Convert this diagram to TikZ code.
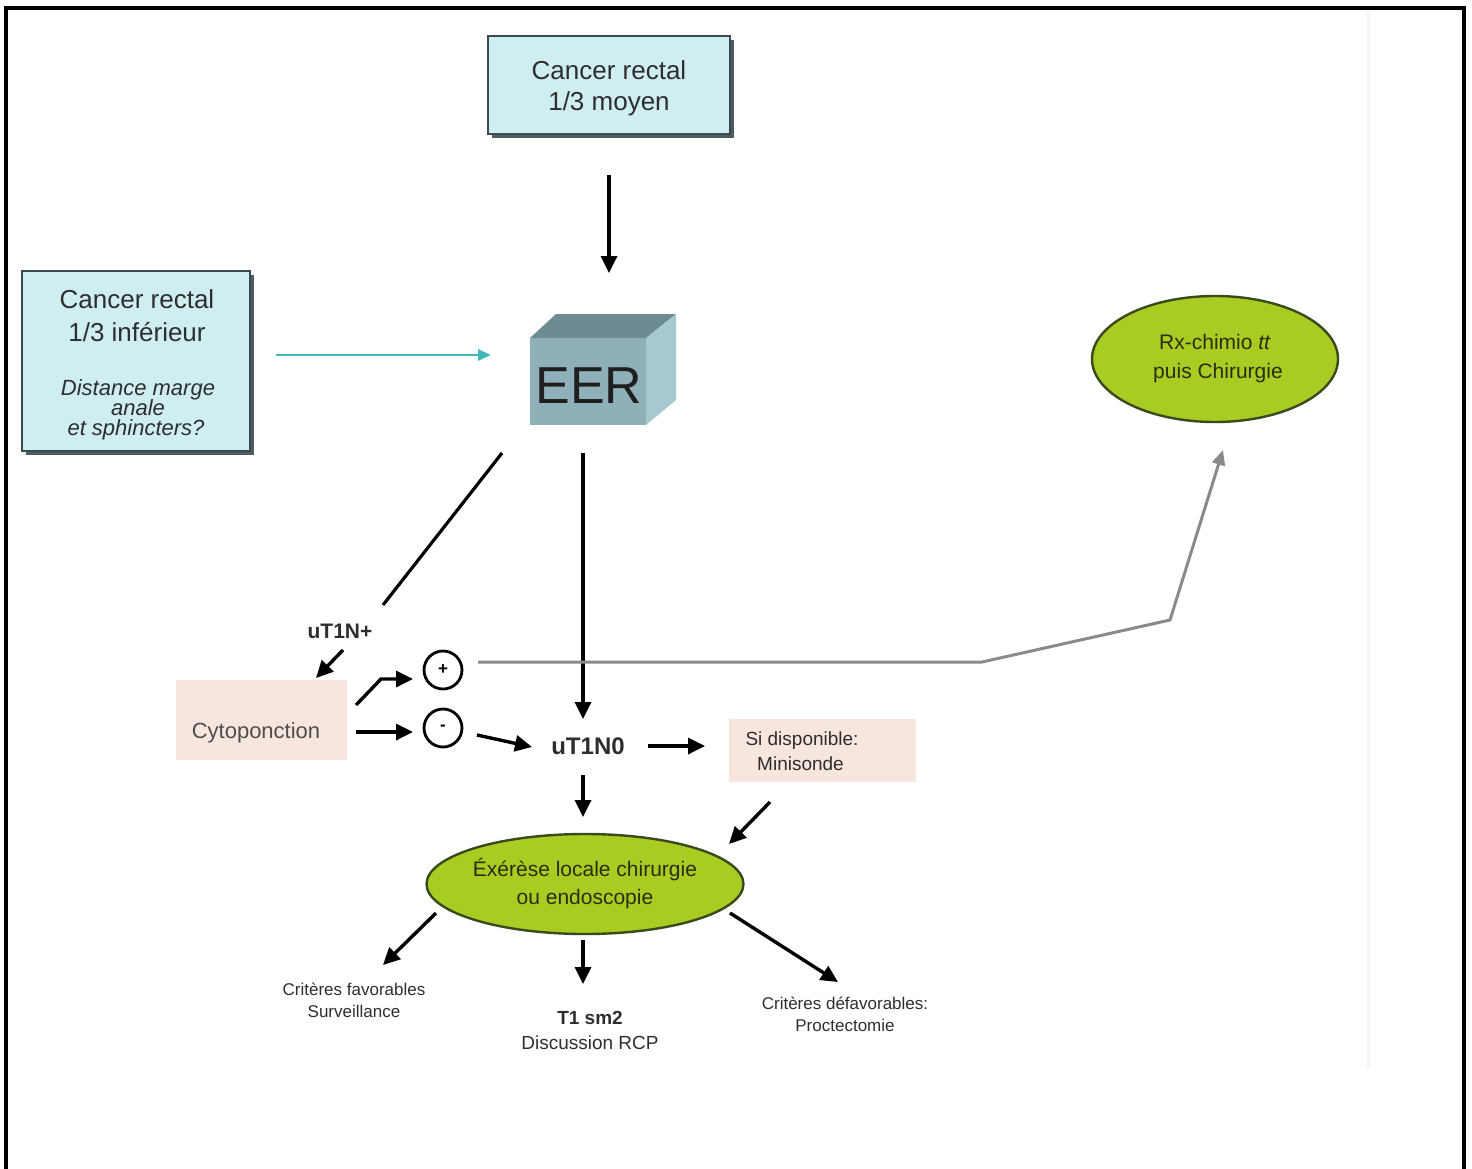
\documentclass[tikz,border=0pt]{standalone}
\usepackage{fontspec}
\setmainfont{Liberation Sans}
\usetikzlibrary{arrows.meta,shapes.geometric,shadows}
\definecolor{boxblue}{HTML}{CFEEF2}
\definecolor{boxline}{HTML}{3A4A50}
\definecolor{cubefront}{HTML}{8FB0B8}
\definecolor{cubetop}{HTML}{6E8A92}
\definecolor{cubeside}{HTML}{A8C8D0}
\definecolor{leaf}{HTML}{A8CC22}
\definecolor{leafline}{HTML}{3A4A1A}
\definecolor{leaftext}{HTML}{243010}
\definecolor{pinkbox}{HTML}{F8E6DE}
\definecolor{tealarr}{HTML}{40B8B8}
\definecolor{grayarr}{HTML}{8A8A8A}
\definecolor{txt}{HTML}{2E2E2E}
\tikzset{
  fs/.style={font=\fontsize{#1}{#1}\selectfont},
  bluebox/.style={draw=boxline, line width=2.2pt, fill=boxblue, inner sep=0pt,
    drop shadow={shadow xshift=4pt, shadow yshift=-4pt, fill=boxline, opacity=0.9}},
  pink/.style={fill=pinkbox, draw=none, inner sep=0pt},
  leafell/.style={ellipse, draw=leafline, line width=2.4pt, fill=leaf, inner sep=0pt, text=leaftext, align=center},
  arr/.style={line width=3.4pt, -{Triangle[length=17pt,width=16pt]}},
  plainline/.style={line width=3.2pt},
  sign/.style={circle, draw, line width=2.8pt, minimum size=38pt, inner sep=0pt, font=\fontsize{17}{17}\selectfont\bfseries},
}
\begin{document}
\begin{tikzpicture}[x=1pt,y=-1pt]
\useasboundingbox (0,0) rectangle (1472,1168);
% frame
\draw[line width=3.2pt] (6,1170) -- (6,8) -- (1464,8) -- (1464,1170);
\draw[gray!8, line width=3pt] (1368,11) -- (1368,1068);

% top box
\node[bluebox, minimum width=242pt, minimum height=98pt] (moyen) at (609,85) {};
\node[fs=26, text=txt, anchor=base] (moyenA) at (609,79) {Cancer rectal};
\node[fs=26, text=txt, anchor=base] (moyenB) at (609,110) {1/3 moyen};

% left box
\node[bluebox, minimum width=228pt, minimum height=180pt] (inf) at (136,361) {};
\node[fs=26, text=txt, anchor=base] (infA) at (137,308) {Cancer rectal};
\node[fs=26, text=txt, anchor=base] (infB) at (137,341) {1/3 inférieur};
\node[text=txt, anchor=base, font=\fontsize{22}{22}\selectfont\itshape] (infC) at (138,395) {Distance marge};
\node[text=txt, anchor=base, font=\fontsize{22}{22}\selectfont\itshape] (infD) at (138,415) {anale};
\node[text=txt, anchor=base, font=\fontsize{22}{22}\selectfont\itshape] (infE) at (136,435) {et sphincters?};

% EER cube
\fill[cubetop] (530,338) -- (556,314) -- (676,314) -- (646,338) -- cycle;
\fill[cubeside] (646,338) -- (676,314) -- (676,400) -- (646,425) -- cycle;
\node[fill=cubefront, minimum width=116pt, minimum height=87pt, inner sep=0pt] (eer) at (588,381.5) {};
\node[font=\fontsize{52}{52}\selectfont, text=black!88, anchor=base] (eerT) at (589,403) {EER};

% Rx ellipse
\node[leafell, minimum width=246pt, minimum height=126pt, font=\fontsize{21}{29}\selectfont] (rx) at (1215,359) {Rx-chimio \textit{tt}\\\hspace*{6pt}puis Chirurgie};

% labels
\node[font=\fontsize{21}{21}\selectfont\bfseries, text=txt] (nplus) at (340,631) {uT1N+};
\node[font=\fontsize{24}{24}\selectfont\bfseries, text=txt] (nzero) at (588,746) {uT1N0};

% Cytoponction
\node[pink, minimum width=171pt, minimum height=80pt] (cyto) at (261.5,720) {};
\node[font=\fontsize{22}{22}\selectfont, text=txt!85] (cytoT) at (256,733) {Cytoponction};

% signs
\node[sign] (plus) at (443,670) {+};
\node[sign] (minus) at (443,728) {-};

% minisonde
\node[pink, minimum width=187pt, minimum height=63pt] (mini) at (822.5,750.5) {};
\node[font=\fontsize{19}{25}\selectfont, text=txt, align=center] (miniT) at (802,751) {Si disponible:\\\hspace*{-3pt}Minisonde};

% exerese
\node[leafell, minimum width=296pt, minimum height=100pt, font=\fontsize{21}{28}\selectfont] (exe) at (585,884) {Éxérèse locale chirurgie\\ou endoscopie};

% bottom labels
\node[font=\fontsize{17}{22}\selectfont, text=txt, align=center] (fav) at (354,1000) {Critères favorables\\Surveillance};
\node[font=\fontsize{19}{25}\selectfont, text=txt, align=center] (t1) at (590,1030) {\textbf{T1 sm2}\\Discussion RCP};
\node[font=\fontsize{17}{22}\selectfont, text=txt, align=center] (defav) at (845,1014) {Critères défavorables:\\Proctectomie};

% coordinates for free ends
\coordinate (c1a) at (609,175); \coordinate (c1b) at (609,273);
\coordinate (c2a) at (276,355); \coordinate (c2b) at (491,355);
\coordinate (c3a) at (502,453); \coordinate (c3b) at (383,605);
\coordinate (c4a) at (343,650); \coordinate (c4b) at (316,678);
\coordinate (c5a) at (583,453); \coordinate (c5b) at (583,719);
\coordinate (c6a) at (356,705); \coordinate (c6m) at (381,679); \coordinate (c6b) at (413,679);
\coordinate (c7a) at (356,732); \coordinate (c7b) at (413,732);
\coordinate (c8a) at (477,735); \coordinate (c8b) at (532,747);
\coordinate (c9a) at (648,746); \coordinate (c9b) at (705,746);
\coordinate (c10a) at (583,775); \coordinate (c10b) at (583,817);
\coordinate (c11a) at (770,802); \coordinate (c11b) at (729,844);
\coordinate (c12a) at (436,913); \coordinate (c12b) at (383,965);
\coordinate (c13a) at (583,940); \coordinate (c13b) at (583,984);
\coordinate (c14a) at (730,913); \coordinate (c14b) at (838,982);
\coordinate (g1) at (478,662); \coordinate (g2) at (982,662); \coordinate (g3) at (1170,620); \coordinate (g4) at (1223,450);

% connectors
\draw[arr] (c1a) -- (c1b);
\draw[tealarr, line width=2.6pt, -{Triangle[length=13pt,width=11pt]}] (c2a) -- (c2b);
\draw[plainline] (c3a) -- (c3b);
\draw[arr] (c4a) -- (c4b);
\draw[arr] (c5a) -- (c5b);
\draw[arr] (c6a) -- (c6m) -- (c6b);
\draw[arr] (c7a) -- (c7b);
\draw[arr] (c8a) -- (c8b);
\draw[arr] (c9a) -- (c9b);
\draw[arr] (c10a) -- (c10b);
\draw[arr] (c11a) -- (c11b);
\draw[arr] (c12a) -- (c12b);
\draw[arr] (c13a) -- (c13b);
\draw[arr] (c14a) -- (c14b);
\draw[grayarr, line width=3pt, -{Triangle[length=15pt,width=13pt]}] (g1) -- (g2) -- (g3) -- (g4);
\end{tikzpicture}
\end{document}
